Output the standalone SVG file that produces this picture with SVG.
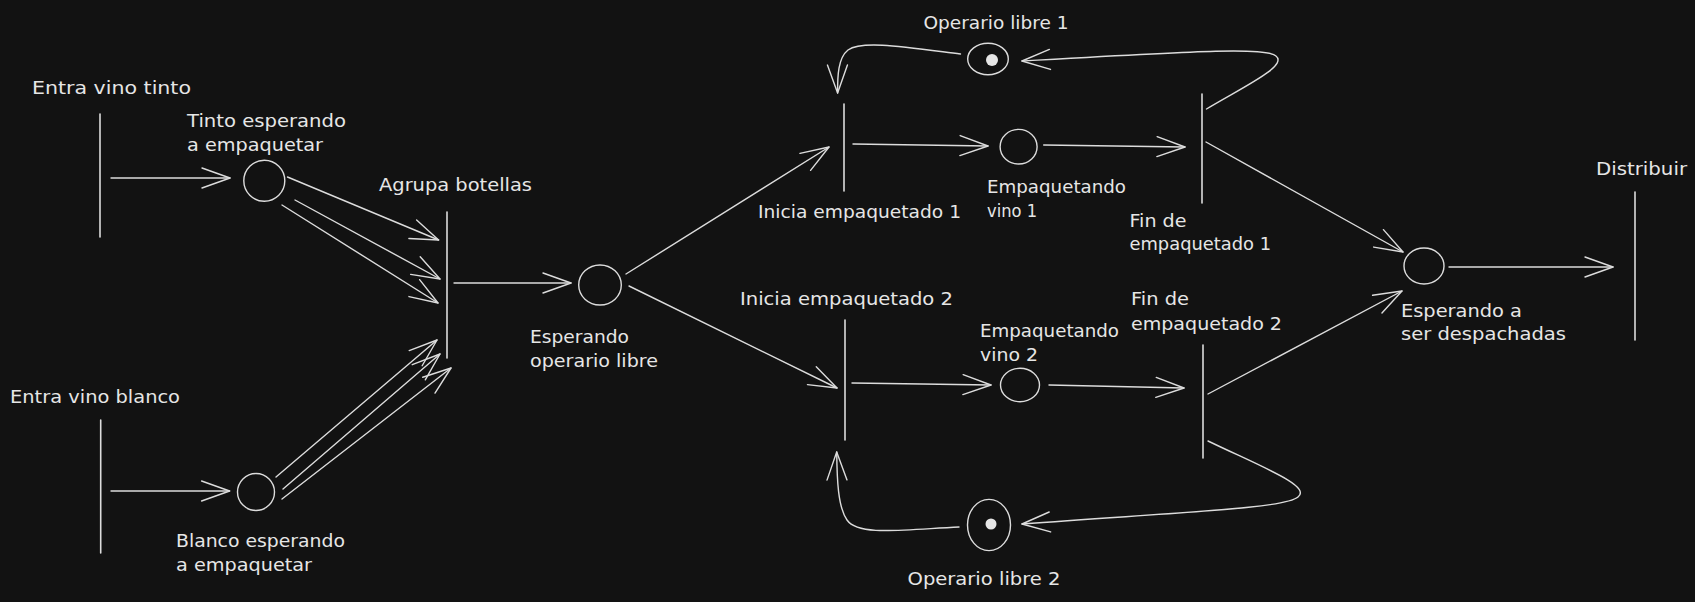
<svg xmlns="http://www.w3.org/2000/svg" width="1695" height="602" viewBox="0 0 1695 602">
<defs>
<marker id="ah" markerUnits="userSpaceOnUse" markerWidth="32" markerHeight="24" viewBox="-2 -2 32 24" refX="28" refY="10" orient="auto" overflow="visible">
<path d="M0,0 L28,10 L0,20" fill="none" stroke="#dcdcdc" stroke-width="1.4" stroke-linecap="round" stroke-linejoin="round"/>
</marker>
</defs>
<style>
.bg{fill:#121212}
.bar{stroke:#dcdcdc;stroke-width:1.6;stroke-linecap:round;fill:none}
.pl{stroke:#dcdcdc;stroke-width:1.4;fill:none}
.tok{fill:#e6e6e6;stroke:none}
.c{stroke:#dcdcdc;stroke-width:1.4;fill:none;stroke-linecap:round;marker-end:url(#ah)}
text{font-family:"DejaVu Sans","Liberation Sans",sans-serif;font-size:18px;fill:#e6e6e6}
</style>
<rect class="bg" x="0" y="0" width="1695" height="602"/>

<g id="connectors">
<line class="c" x1="111" y1="178" x2="230" y2="178"/>
<line class="c" x1="111" y1="491" x2="229.6" y2="491"/>
<line class="c" x1="287.5" y1="177" x2="438.6" y2="240"/>
<line class="c" x1="295" y1="200" x2="440" y2="279"/>
<line class="c" x1="282" y1="205" x2="438" y2="303"/>
<line class="c" x1="276" y1="477" x2="437" y2="340"/>
<line class="c" x1="283" y1="489" x2="440" y2="354"/>
<line class="c" x1="282" y1="499" x2="451" y2="368"/>
<line class="c" x1="454" y1="283" x2="571" y2="283"/>
<line class="c" x1="626" y1="274" x2="829" y2="147"/>
<line class="c" x1="629" y1="286" x2="837" y2="388"/>
<line class="c" x1="853" y1="144" x2="988" y2="146"/>
<line class="c" x1="1043.7" y1="145" x2="1185" y2="147"/>
<line class="c" x1="852" y1="383" x2="991" y2="385"/>
<line class="c" x1="1049" y1="385" x2="1184" y2="388"/>
<line class="c" x1="1206" y1="142" x2="1403" y2="252"/>
<line class="c" x1="1208" y1="394" x2="1402" y2="291"/>
<line class="c" x1="1449" y1="267" x2="1613" y2="267"/>
<path class="c" d="M960.5,54 C905,47 862,40 848,50 C838,58 837.5,76 837.6,93"/>
<path class="c" d="M1206.5,109 C1245,86 1288,66 1276,56 C1266,47 1200,51 1022,61"/>
<path class="c" d="M1208,441 C1262,467 1312,486 1298,497 C1285,508 1200,511 1022,524"/>
<path class="c" d="M959,527 C900,530 858,536 847,520 C838,507 837,480 836.7,452"/>
</g>

<g id="entra-tinto">
<line class="bar" x1="100" y1="114" x2="100" y2="237"/>
<text x="32" y="94" textLength="159" lengthAdjust="spacingAndGlyphs">Entra vino tinto</text>
</g>
<g id="tinto-esperando">
<circle class="pl" cx="264.3" cy="180.8" r="20.5"/>
<text x="187" y="127" textLength="159" lengthAdjust="spacingAndGlyphs">Tinto esperando</text>
<text x="187" y="151" textLength="136" lengthAdjust="spacingAndGlyphs">a empaquetar</text>
</g>
<g id="entra-blanco">
<line class="bar" x1="100.7" y1="420" x2="100.7" y2="553"/>
<text x="10" y="403" textLength="170" lengthAdjust="spacingAndGlyphs">Entra vino blanco</text>
</g>
<g id="blanco-esperando">
<circle class="pl" cx="256" cy="492" r="18.5"/>
<text x="176" y="547" textLength="169" lengthAdjust="spacingAndGlyphs">Blanco esperando</text>
<text x="176" y="571" textLength="136" lengthAdjust="spacingAndGlyphs">a empaquetar</text>
</g>
<g id="agrupa-botellas">
<line class="bar" x1="447" y1="212" x2="447" y2="358"/>
<text x="379" y="191" textLength="153" lengthAdjust="spacingAndGlyphs">Agrupa botellas</text>
</g>
<g id="esperando-operario">
<ellipse class="pl" cx="600" cy="285" rx="21.3" ry="20"/>
<text x="530" y="343" textLength="99" lengthAdjust="spacingAndGlyphs">Esperando</text>
<text x="530" y="367" textLength="128" lengthAdjust="spacingAndGlyphs">operario libre</text>
</g>
<g id="inicia-1">
<line class="bar" x1="844" y1="104" x2="844" y2="191"/>
<text x="758" y="218" textLength="203" lengthAdjust="spacingAndGlyphs">Inicia empaquetado 1</text>
</g>
<g id="empaquetando-1">
<ellipse class="pl" cx="1018.6" cy="146.7" rx="18.5" ry="17.3"/>
<text x="987" y="193" textLength="139" lengthAdjust="spacingAndGlyphs">Empaquetando</text>
<text x="987" y="217" textLength="50" lengthAdjust="spacingAndGlyphs">vino 1</text>
</g>
<g id="fin-1">
<line class="bar" x1="1202" y1="94" x2="1202" y2="203"/>
<text x="1129.5" y="227" textLength="57" lengthAdjust="spacingAndGlyphs">Fin de</text>
<text x="1129.5" y="250" textLength="141.5" lengthAdjust="spacingAndGlyphs">empaquetado 1</text>
</g>
<g id="operario-1">
<ellipse class="pl" cx="988" cy="59" rx="20.3" ry="15.8"/>
<circle class="tok" cx="992" cy="60" r="6"/>
<text x="923.5" y="29" textLength="145" lengthAdjust="spacingAndGlyphs">Operario libre 1</text>
</g>
<g id="inicia-2">
<line class="bar" x1="845" y1="320" x2="845" y2="440"/>
<text x="740" y="305" textLength="213" lengthAdjust="spacingAndGlyphs">Inicia empaquetado 2</text>
</g>
<g id="empaquetando-2">
<ellipse class="pl" cx="1020" cy="385" rx="19.5" ry="16.7"/>
<text x="980" y="337" textLength="139" lengthAdjust="spacingAndGlyphs">Empaquetando</text>
<text x="980" y="361" textLength="58" lengthAdjust="spacingAndGlyphs">vino 2</text>
</g>
<g id="fin-2">
<line class="bar" x1="1203" y1="345" x2="1203" y2="458"/>
<text x="1131" y="305" textLength="58" lengthAdjust="spacingAndGlyphs">Fin de</text>
<text x="1131" y="330" textLength="151" lengthAdjust="spacingAndGlyphs">empaquetado 2</text>
</g>
<g id="operario-2">
<ellipse class="pl" cx="989" cy="525" rx="21.5" ry="25.6"/>
<circle class="tok" cx="991" cy="524" r="5.5"/>
<text x="907.5" y="585" textLength="153" lengthAdjust="spacingAndGlyphs">Operario libre 2</text>
</g>
<g id="esperando-despacho">
<ellipse class="pl" cx="1424" cy="266" rx="20" ry="18"/>
<text x="1401" y="317" textLength="121" lengthAdjust="spacingAndGlyphs">Esperando a</text>
<text x="1401" y="340" textLength="165" lengthAdjust="spacingAndGlyphs">ser despachadas</text>
</g>
<g id="distribuir">
<line class="bar" x1="1635" y1="192" x2="1635" y2="340"/>
<text x="1596" y="175" textLength="91" lengthAdjust="spacingAndGlyphs">Distribuir</text>
</g>
</svg>
